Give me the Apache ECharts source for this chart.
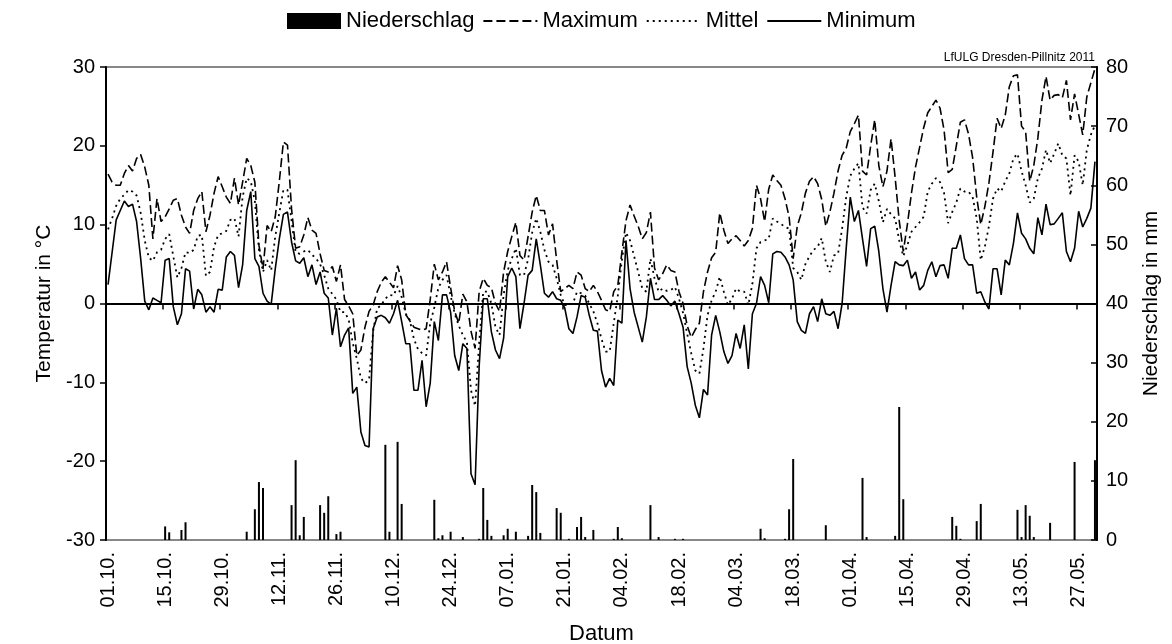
<!DOCTYPE html>
<html>
<head>
<meta charset="utf-8">
<script src="https://cdn.jsdelivr.net/npm/echarts@6/dist/echarts.min.js"></script>
<style>
html,body{margin:0;padding:0;background:#fff;}
#chart{width:1172px;height:644px;}
</style>
</head>
<body>
<div id="chart"></div>
<script>
// Daily values 01.10.2010 – 31.05.2011
const dayCount = 243;
const categories = [];
for (let i = 0; i < dayCount; i++) {
  const d = new Date(Date.UTC(2010, 9, 1 + i));
  categories.push(String(d.getUTCDate()).padStart(2, '0') + '.' + String(d.getUTCMonth() + 1).padStart(2, '0') + '.');
}

const tempMax = [
  16.4, 15.4, 15.0, 15.0, 16.5, 17.5, 16.8, 18.4, 18.9, 17.3,
  15.0, 8.2, 13.3, 10.4, 11.0, 12.0, 13.1, 13.3, 11.2, 9.7,
  8.9, 11.8, 13.3, 14.2, 9.1, 11.2, 14.0, 16.1, 14.8, 13.5,
  12.7, 15.9, 12.5, 15.4, 18.4, 17.5, 15.4, 7.4, 4.4, 9.9,
  9.1, 11.0, 15.5, 20.5, 20.1, 12.0, 7.0, 7.2, 8.7, 10.9,
  9.3, 8.9, 6.3, 4.2, 4.0, 4.7, 2.8, 4.9, 0.5, -0.3,
  -1.3, -6.6, -5.9, -3.0, -1.0, -0.2, 1.5, 2.7, 3.4, 2.7,
  2.0, 4.8, 3.0, -1.4, -2.2, -3.0, -3.2, -3.4, -3.2, 0.5,
  5.0, 3.0, 4.0, 5.3, 2.0, -1.0, -2.5, 1.2, 0.2, -3.5,
  -5.7, 1.5, 3.2, 2.3, 2.0, 0.0, -1.0, 4.0, 6.6, 8.5,
  10.3, 6.1, 5.5, 8.5, 11.6, 13.7, 11.8, 11.8, 8.7, 10.1,
  5.5, 1.5, 1.9, 2.3, 1.9, 4.0, 3.6, 1.9, 1.5, 2.3,
  1.5, 0.4, -0.8, -1.0, 1.5, 2.3, 6.5, 10.5, 12.5, 11.1,
  9.8, 8.2, 9.0, 11.6, 4.5, 3.0, 3.8, 4.9, 4.2, 4.0,
  1.5, 0.0, -2.8, -4.3, -3.3, -2.5, 1.5, 4.0, 5.8, 6.5,
  11.5, 9.3, 7.6, 8.2, 8.6, 8.0, 7.3, 8.0, 9.5, 15.0,
  13.3, 10.4, 14.5, 16.3, 15.6, 15.0, 13.3, 11.0, 5.7, 9.8,
  11.5, 14.0, 15.5, 16.1, 15.2, 13.2, 9.8, 11.6, 14.0, 16.8,
  18.8, 19.7, 21.8, 22.8, 23.9, 16.8, 16.3, 20.0, 23.3, 17.5,
  14.8, 16.8, 20.9, 16.0, 10.5, 6.6, 10.0, 14.0, 17.3, 19.8,
  22.3, 24.2, 25.0, 25.8, 24.8, 22.0, 16.6, 17.0, 20.0, 23.0,
  23.3, 21.5, 18.5, 13.5, 10.0, 12.3, 15.3, 19.2, 23.5, 22.2,
  23.9, 27.5, 28.9, 29.0, 22.5, 21.8, 15.5, 17.5, 21.0, 25.8,
  28.8, 25.8, 26.4, 26.5, 26.1, 28.3, 23.3, 26.6, 24.0, 21.4,
  26.2, 28.0, 29.8
];

const tempMean = [
  9.4, 10.8, 12.4, 13.3, 13.8, 14.4, 14.2, 13.7, 11.5, 8.0,
  5.8, 5.4, 6.5, 6.8, 8.2, 8.8, 6.0, 3.3, 4.5, 6.5,
  6.4, 6.8, 8.6, 8.7, 3.5, 4.0, 7.2, 8.7, 8.9, 9.2,
  10.6, 10.8, 8.5, 13.5, 15.9, 15.5, 13.0, 6.8, 4.0, 5.5,
  4.2, 8.5, 11.5, 14.4, 14.4, 10.5, 6.5, 6.3, 6.6, 6.8,
  6.2, 5.7, 5.0, 3.6, 1.9, 1.2, 0.5, -1.1, -1.1, -2.0,
  -5.0, -7.0, -9.5, -10.1, -9.7, -3.5, -0.6, -0.2, 0.6, 1.1,
  1.0, 2.2, 0.8, -1.3, -2.1, -4.5, -5.8, -6.3, -6.6, -2.5,
  -0.5, 2.0, 3.0, 3.6, 1.0, -1.3, -2.8, -4.0, -4.9, -11.0,
  -13.0, -5.0, 1.5, 1.5, 0.0, -3.0, -4.0, 1.1, 4.2, 5.7,
  7.0, 3.6, 3.6, 5.6, 9.0, 10.8, 9.1, 6.8, 5.3, 4.9,
  3.2, 1.1, -0.2, -0.2, 0.0, 1.5, 1.3, 1.0, 0.0, -1.0,
  -2.5, -4.5, -6.1, -6.1, -2.5, 1.0, 5.5, 9.0, 8.0, 6.0,
  4.0, 1.9, 1.5, 5.7, 3.2, 1.5, 1.9, 1.6, 1.7, 2.1,
  0.6, -1.2, -3.8, -6.3, -8.5, -8.9, -5.7, -1.5, 0.4, 1.5,
  3.4, 1.5, -0.2, 0.6, 1.9, 1.5, 1.5, -0.2, 2.5, 7.0,
  7.8, 8.0, 8.2, 10.8, 10.4, 10.1, 9.7, 9.5, 4.5, 4.0,
  3.0, 5.0, 6.0, 6.8, 7.2, 8.3, 5.3, 4.0, 6.1, 6.3,
  9.5, 13.5, 16.2, 17.1, 17.8, 12.2, 11.4, 14.4, 15.2, 13.0,
  10.3, 12.0, 11.3, 10.8, 8.0, 6.0, 7.4, 9.1, 9.7, 10.3,
  11.0, 14.2, 15.2, 15.9, 15.4, 14.0, 10.2, 11.6, 12.8, 14.6,
  14.2, 14.2, 13.5, 10.8, 5.5, 7.2, 9.8, 13.3, 14.6, 14.2,
  15.5, 16.5, 18.4, 19.0, 16.8, 15.0, 12.8, 13.3, 15.9, 17.1,
  19.5, 17.8, 19.0, 20.3, 18.8, 18.4, 13.7, 18.8, 18.0, 15.0,
  19.5, 21.4, 22.6
];

const tempMin = [
  2.4, 6.5, 10.6, 11.8, 13.0, 12.3, 12.6, 10.4, 5.7, 0.3,
  -0.8, 0.7, 0.4, 0.1, 5.5, 5.7, -0.4, -2.7, -1.3, 4.4,
  4.1, -0.7, 1.8, 1.1, -1.1, -0.4, -1.1, 1.8, 1.7, 5.9,
  6.6, 6.1, 2.0, 4.9, 11.8, 14.2, 5.7, 4.7, 1.3, 0.3,
  -0.1, 4.4, 8.2, 11.3, 11.6, 7.8, 5.4, 5.1, 5.8, 3.4,
  4.9, 2.4, 4.0, 1.3, 0.7, -4.0, -0.6, -5.5, -4.0, -3.1,
  -11.4, -10.6, -16.3, -18.0, -18.2, -3.2, -1.7, -1.5, -1.8, -2.5,
  -1.3, 0.4, -2.3, -5.1, -5.1, -11.0, -11.0, -7.2, -13.1, -10.1,
  -2.3, -4.7, 1.1, 1.1, -1.1, -6.6, -8.5, -5.1, -5.7, -21.6,
  -23.0, -8.0, 0.6, 0.6, -3.6, -5.9, -7.0, -4.4, 3.4, 4.5,
  3.4, -3.2, 0.0, 3.6, 4.2, 8.2, 4.9, 1.3, 0.8, 1.5,
  0.6, 0.4, -0.6, -3.2, -3.8, -1.7, 1.0, 0.8, -1.5, -3.4,
  -3.5, -8.5, -10.6, -9.5, -10.4, -2.1, -2.5, 8.0, 1.9, -1.1,
  -3.0, -4.9, -1.7, 3.2, 0.5, 0.5, 1.0, 0.4, -0.3, 0.3,
  -1.3, -3.0, -8.0, -10.1, -12.9, -14.5, -10.9, -11.6, -4.0, -1.5,
  -3.6, -6.1, -7.6, -6.6, -3.8, -5.7, -2.7, -8.3, -1.3, 0.0,
  3.4, 2.3, 0.1, 6.3, 6.6, 6.5, 5.9, 4.9, 3.0, -2.3,
  -3.4, -3.8, -1.3, -0.4, -2.3, 0.6, -1.3, -1.5, -1.0, -3.2,
  0.0, 7.0, 13.5, 10.4, 11.8, 8.2, 4.7, 9.5, 9.8, 6.6,
  1.9, -1.1, 2.3, 5.3, 4.9, 4.8, 5.5, 3.2, 4.0, 1.7,
  2.3, 4.2, 5.3, 3.4, 4.8, 4.9, 3.2, 7.0, 7.0, 8.7,
  5.7, 4.9, 4.9, 1.3, 1.5, 0.2, -0.7, 4.4, 4.4, 1.1,
  5.5, 4.9, 7.6, 11.5, 8.9, 8.2, 7.0, 6.3, 10.9, 8.7,
  12.6, 10.0, 10.1, 10.8, 11.5, 6.6, 5.3, 7.0, 11.7, 9.7,
  10.8, 12.1, 18.0
];

const precipitation = [
  0, 0, 0, 0, 0, 0, 0, 0, 0, 0,
  0, 0, 0, 0, 2.3, 1.3, 0, 0, 1.7, 3.0,
  0, 0, 0, 0, 0, 0, 0, 0, 0, 0,
  0, 0, 0, 0, 1.4, 0, 5.2, 9.8, 8.8, 0,
  0, 0, 0, 0, 0, 5.9, 13.5, 0.8, 3.9, 0,
  0, 0, 5.9, 4.6, 7.4, 0, 1.0, 1.4, 0, 0,
  0, 0, 0, 0, 0, 0, 0, 0, 16.1, 1.4,
  0, 16.6, 6.1, 0, 0, 0, 0, 0, 0, 0,
  6.8, 0.3, 0.8, 0, 1.4, 0, 0, 0.5, 0, 0,
  0, 0.2, 8.8, 3.4, 0.7, 0, 0, 0.8, 1.9, 0,
  1.4, 0, 0, 0.7, 9.3, 8.1, 1.2, 0, 0, 0,
  5.4, 4.6, 0, 0.2, 0, 2.2, 3.9, 0.5, 0, 1.7,
  0, 0, 0, 0, 0.2, 2.2, 0.3, 0, 0, 0,
  0, 0, 0, 5.9, 0, 0.5, 0, 0, 0, 0.2,
  0, 0.2, 0, 0, 0, 0, 0, 0, 0, 0,
  0, 0, 0, 0, 0, 0, 0, 0, 0, 0,
  1.9, 0.3, 0, 0, 0, 0, 0.2, 5.2, 13.7, 0,
  0, 0, 0, 0, 0, 0, 2.5, 0, 0, 0,
  0, 0, 0, 0, 0, 10.5, 0.5, 0, 0, 0,
  0, 0, 0, 0.7, 22.5, 6.9, 0, 0, 0, 0,
  0, 0, 0, 0, 0, 0, 0, 3.9, 2.4, 0.2,
  0, 0, 0, 3.2, 6.1, 0, 0, 0, 0, 0,
  0, 0, 0, 5.1, 0.5, 5.9, 4.1, 0.5, 0, 0,
  0, 2.9, 0, 0, 0, 0, 0, 13.2, 0, 0,
  0, 0, 13.5
];

const FONT = 'Liberation Sans, Arial, sans-serif';
const chart = echarts.init(document.getElementById('chart'), null, {renderer: 'canvas'});
chart.setOption({
  animation: false,
  backgroundColor: '#fff',
  textStyle: {fontFamily: FONT, color: '#000'},
  legend: {
    top: 5,
    left: 282,
    itemWidth: 54,
    itemHeight: 16,
    itemGap: 8,
    itemStyle: {opacity: 0},
    textStyle: {fontFamily: FONT, fontSize: 22, color: '#000'},
    data: [
      {name: 'Niederschlag', icon: 'rect', itemStyle: {opacity: 1, color: '#000'}},
      'Maximum', 'Mittel', 'Minimum'
    ]
  },
  graphic: [{
    type: 'text', right: 77, top: 52,
    style: {text: 'LfULG Dresden-Pillnitz 2011', fontFamily: FONT, fontSize: 12, fill: '#000'}
  }],
  grid: {
    left: 106, right: 75, top: 67, bottom: 104,
    outerBoundsMode: 'none', containLabel: false,
    show: true, borderColor: '#888', borderWidth: 2, backgroundColor: 'transparent'
  },
  xAxis: {
    type: 'category',
    data: categories,
    boundaryGap: true,
    name: 'Datum',
    nameLocation: 'middle',
    nameGap: 83,
    nameTextStyle: {fontFamily: FONT, fontSize: 22, color: '#000'},
    axisLine: {lineStyle: {color: '#000', width: 2}},
    axisTick: {show: true, interval: 13, length: 6, alignWithLabel: false, lineStyle: {color: '#000', width: 1.5}},
    axisLabel: {interval: 13, rotate: 90, margin: 12, fontFamily: FONT, fontSize: 20, color: '#000'},
    splitLine: {show: false}
  },
  yAxis: [{
    type: 'value', min: -30, max: 30, interval: 10, position: 'left',
    name: 'Temperatur in °C', nameLocation: 'middle', nameGap: 50, nameRotate: 90,
    nameTextStyle: {fontFamily: FONT, fontSize: 21, color: '#000'},
    axisLine: {show: true, lineStyle: {color: '#000', width: 2}},
    axisTick: {show: true, length: 6, lineStyle: {color: '#000', width: 1.5}},
    axisLabel: {margin: 11, fontFamily: FONT, fontSize: 20, color: '#000'},
    splitLine: {show: false}
  }, {
    type: 'value', min: 0, max: 80, interval: 10, position: 'right',
    name: 'Niederschlag in mm', nameLocation: 'middle', nameGap: 44, nameRotate: 90,
    nameTextStyle: {fontFamily: FONT, fontSize: 21, color: '#000'},
    axisLine: {show: true, lineStyle: {color: '#000', width: 2}},
    axisTick: {show: true, inside: true, length: 6, lineStyle: {color: '#000', width: 1.5}},
    axisLabel: {margin: 9, fontFamily: FONT, fontSize: 20, color: '#000'},
    splitLine: {show: false}
  }],
  series: [{
    name: 'Niederschlag', type: 'bar', yAxisIndex: 1, data: precipitation,
    barWidth: 2, itemStyle: {color: '#000'}, z: 1
  }, {
    name: 'Maximum', type: 'line', yAxisIndex: 0, data: tempMax, symbol: 'none',
    lineStyle: {color: '#000', width: 1.6, type: [9, 4]}, itemStyle: {color: '#000'}, z: 3
  }, {
    name: 'Mittel', type: 'line', yAxisIndex: 0, data: tempMean, symbol: 'none',
    lineStyle: {color: '#000', width: 1.8, type: [2, 4]}, itemStyle: {color: '#000'}, z: 3
  }, {
    name: 'Minimum', type: 'line', yAxisIndex: 0, data: tempMin, symbol: 'none',
    lineStyle: {color: '#000', width: 1.6, type: 'solid'}, itemStyle: {color: '#000'}, z: 3,
    markLine: {
      silent: true, symbol: 'none', label: {show: false},
      lineStyle: {color: '#000', width: 1.5, type: 'solid'},
      data: [{yAxis: 0}]
    }
  }]
});
</script>
</body>
</html>
